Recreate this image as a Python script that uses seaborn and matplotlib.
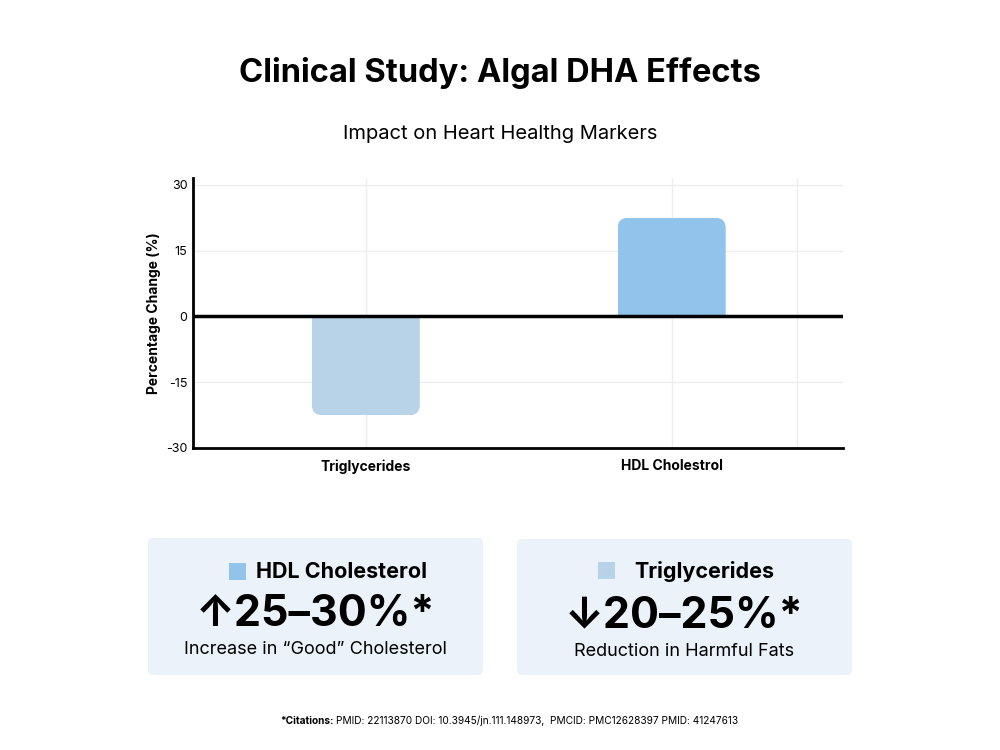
import matplotlib.pyplot as plt
import seaborn as sns
from matplotlib.patches import FancyBboxPatch, Rectangle

categories = ['Triglycerides', 'HDL Cholestrol']
values = [-22.5, 22.5]
bar_colors = ['#B8D3E8', '#92C4EB']
y_ticks = [-30, -15, 0, 15, 30]

card_names = ['HDL Cholesterol', 'Triglycerides']
card_figures = ['↑25–30%*', '↓20–25%*']
card_notes = ['Increase in “Good” Cholesterol', 'Reduction in Harmful Fats']
card_colors = ['#92C4EB', '#B8D3E8']

sns.set_style("white")
plt.rcParams['font.family'] = ['Inter', 'DejaVu Sans']
plt.rcParams['text.color'] = 'black'
plt.rcParams['xtick.color'] = 'black'
plt.rcParams['ytick.color'] = 'black'
plt.rcParams['axes.labelcolor'] = 'black'

fig = plt.figure(figsize=(10, 7.5), dpi=100)
ax = fig.add_axes([0.193, 0.4027, 0.65, 0.36])

sns.barplot(x=categories, y=values, hue=categories, palette=bar_colors,
            width=0.353, legend=False, ax=ax, saturation=1)

# round only the outer end of each bar: draw a rounded box that runs past zero
# and clip it back to the bar's own rectangle
px_x = 1 / 306
px_y = 30 / 131.5
for p, c in list(zip(ax.patches, bar_colors)):
    x, y, w, h = p.get_x(), p.get_y(), p.get_width(), p.get_height()
    ext_y = 12 * px_y
    lo = min(y, y + h) - (ext_y if h > 0 else 0)
    hi = max(y, y + h) + (ext_y if h < 0 else 0)
    rb = FancyBboxPatch((x, lo), w, hi - lo,
                        boxstyle=f"round,pad=0,rounding_size={10 * px_x}",
                        mutation_aspect=px_y / px_x, fc=c, ec='none', lw=0,
                        zorder=p.get_zorder())
    ax.add_patch(rb)
    rb.set_clip_path(Rectangle((x, min(y, y + h)), w, abs(h), transform=ax.transData))
    p.set_visible(False)

ax.set_xlim(-0.565, 1.56)
ax.set_ylim(-30, 31.6)
ax.set_yticks(y_ticks)
ax.set_yticklabels([str(t) for t in y_ticks])

for t in [-15, 15, 30]:
    ax.axhline(t, color='#EEEEEE', lw=1, zorder=0)
for xv in [0, 1, 1.41]:
    ax.axvline(xv, color='#EEEEEE', lw=1, zorder=0)
ax.axhline(0, color='black', lw=2.5, zorder=5)

sns.despine(ax=ax)
for s in ['left', 'bottom']:
    ax.spines[s].set_linewidth(2)
    ax.spines[s].set_color('black')
ax.tick_params(axis='y', length=0, labelsize=9, pad=4)
ax.tick_params(axis='x', length=0, labelsize=10, pad=8)
for lbl in ax.get_xticklabels():
    lbl.set_fontweight('bold')
ax.set_ylabel('Percentage Change (%)', fontsize=10, fontweight='bold', labelpad=4)
ax.set_xlabel('')

fig.text(0.5, 1 - 73 / 750, 'Clinical Study: Algal DHA Effects', ha='center', va='center',
         fontsize=23.5, fontweight='bold')
fig.text(0.5, 1 - 134 / 750, 'Impact on Heart Healthg Markers', ha='center', va='center',
         fontsize=14.5)

# summary cards (pixel positions from top-left)
boxes = [(148, 538, 335, 137), (517, 539, 335, 136)]
squares = [(229, 563), (598, 562)]
name_x = [256, 634]
for i in range(2):
    bx, by, bw, bh = boxes[i]
    fig.patches.append(FancyBboxPatch((bx / 1000, 1 - (by + bh) / 750), bw / 1000, bh / 750,
                                      boxstyle="round,pad=0,rounding_size=0.006",
                                      transform=fig.transFigure, fc='#EBF2F9', ec='none'))
    sx, sy = squares[i]
    fig.patches.append(plt.Rectangle((sx / 1000, 1 - (sy + 17) / 750), 17 / 1000, 17 / 750,
                                     transform=fig.transFigure, fc=card_colors[i], ec='none'))
    fig.text(name_x[i] / 1000, 1 - (sy + 9) / 750, card_names[i], ha='left', va='center',
             fontsize=15.5, fontweight='bold')
    cx = (bx + bw / 2) / 1000
    fig.text(cx, 1 - (by + 77) / 750, card_figures[i], ha='center', va='center',
             fontsize=31, fontweight='bold')
    fig.text(cx, 1 - (by + 112) / 750, card_notes[i], ha='center', va='center', fontsize=13)

r = fig.canvas.get_renderer()
cit = fig.text(0.28, 1 - 721 / 750, '*Citations:', ha='left', va='center', fontsize=7.3,
               fontweight='bold')
ext = cit.get_window_extent(renderer=r)
fig.text((ext.x1 + 3) / 1000, 1 - 721 / 750,
         'PMID: 22113870 DOI: 10.3945/jn.111.148973,  PMCID: PMC12628397 PMID: 41247613',
         ha='left', va='center', fontsize=7.3)

fig.savefig('out.png', dpi=100)
